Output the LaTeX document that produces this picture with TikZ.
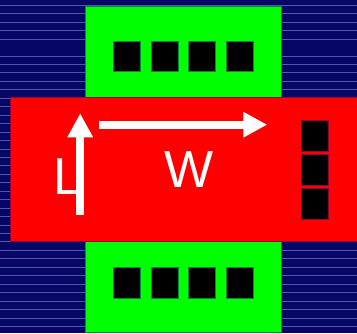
\documentclass[tikz,border=0pt]{standalone}
\usepackage{fontspec}
\setmainfont{Liberation Sans}
\usetikzlibrary{arrows.meta}
\definecolor{navybg}{RGB}{6,6,102}
\definecolor{stripe}{RGB}{84,84,168}
\definecolor{padgreen}{RGB}{0,255,0}
\definecolor{greenedge}{RGB}{0,140,60}
\definecolor{bodyred}{RGB}{255,0,0}
\definecolor{rededge}{RGB}{150,0,60}
\tikzset{
  field/.style={fill=navybg, draw=none},
  stripeline/.style={draw=stripe, line width=0.9pt},
  diffusion/.style={fill=padgreen, draw=greenedge, line width=0.8pt},
  gatebody/.style={fill=bodyred, draw=rededge, line width=0.6pt},
  contactg/.style={fill=black, draw=greenedge, line width=0.8pt},
  contactr/.style={fill=black, draw=rededge, line width=0.8pt},
  dimarrow/.style={draw=white, line width=8pt, -{Triangle[width=24pt,length=24pt]}},
  dimlabel/.style={text=white, font=\fontsize{52}{52}\selectfont, inner sep=0pt, anchor=base}
}
\begin{document}
\begin{tikzpicture}[x=1pt, y=-1pt]
  \useasboundingbox (0,0) rectangle (357,333);
  % substrate with horizontal ruling
  \fill[field] (0,0) rectangle (357,333);
  \foreach \k in {0,1,2,3,4,6,7,8,9,10,11,12,13,14,15,16,17,18,19,20,21,22,23,24,25,26,27,28,29,30,31,32,33,34,35,36,37,38}
    \draw[stripeline] (0,{5.3+8.45*\k}) -- (357,{5.3+8.45*\k});
  % source and drain diffusions
  \draw[diffusion] (85.3,6.7) rectangle (281.3,97.5);
  \draw[diffusion] (85.3,241.5) rectangle (281.3,332);
  % gate
  \draw[gatebody] (10,97.5) rectangle (358,241.5);
  % contacts on the diffusions
  \foreach \x in {113.3,151,188.7,226.3} {
    \draw[contactg] (\x,41) rectangle ++(27,30.7);
    \draw[contactg] (\x,267.7) rectangle ++(27,30.7);
  }
  % contacts on the gate
  \foreach \y in {120.3,154.3,188.3}
    \draw[contactr] (301.7,\y) rectangle ++(26.6,31);
  % dimension arrows
  \coordinate (lbase) at (80.2,215);
  \coordinate (ltip) at (80.2,113.3);
  \coordinate (wbase) at (99,124.7);
  \coordinate (wtip) at (267.3,124.7);
  \draw[dimarrow] (lbase) -- (ltip);
  \draw[dimarrow] (wbase) -- (wtip);
  \node[dimlabel] (lab-l) at (68,194) {L};
  \node[dimlabel] (lab-w) at (189,187) {W};
\end{tikzpicture}
\end{document}
